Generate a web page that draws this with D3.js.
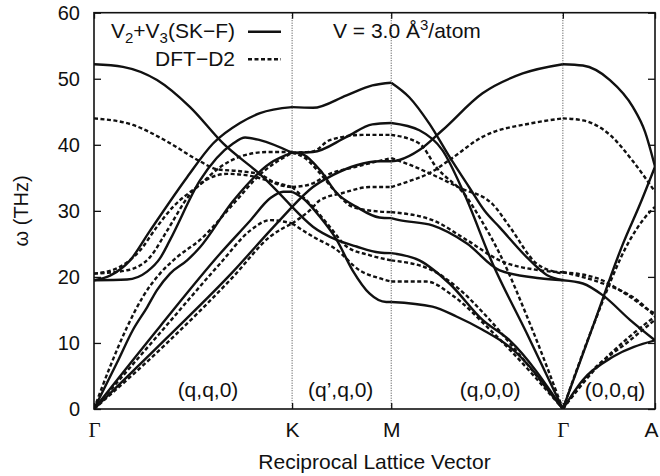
<!DOCTYPE html>
<html>
<head>
<meta charset="utf-8">
<script src="https://cdn.jsdelivr.net/npm/d3@7"></script>
<style>
  body { margin: 0; background: #fff; }
  svg { font-family: "Liberation Sans", Arial, sans-serif; }
</style>
</head>
<body>
<div id="chart"></div>
<script>
//~~~~~~~~~~~~~~~~~~~~~~~~~~~~~~~~~~~~
// Data
//~~~~~~~~~~~~~~~~~~~~~~~~~~~~~~~~~~~~
// high-symmetry points and their position along the path
const symLabels = ["\u0393", "K", "M", "\u0393", "A"];
const symPos = [0, 1.333, 2.0, 3.155, 3.775];

// direction labels and where they sit along the path
const dirLabels = ["(q,q,0)", "(q\u2019,q,0)", "(q,0,0)", "(0,0,q)"];
const dirLabelPos = [0.767, 1.66, 2.665, 3.506];

const yTicks = [0, 10, 20, 30, 40, 50, 60];

// bands: [segment index, [[fraction along segment, frequency THz], ...]]
const skfBands = [
    // Gamma - K
    [0, [[0, 52.2], [0.146, 51.8], [0.318, 49.8], [0.485, 45.7], [0.652, 40.2], [0.854, 35.1], [1, 30.6]]],
    [0, [[0, 19.5], [0.081, 20.2], [0.182, 22.5], [0.283, 27], [0.47, 35.1], [0.601, 40.2], [0.737, 43.3], [0.838, 44.8], [1, 45.7]]],
    [0, [[0, 19.5], [0.167, 19.6], [0.268, 20.8], [0.333, 22.8], [0.384, 25.6], [0.535, 34.6], [0.702, 40.2], [0.763, 41.1], [0.838, 40.7], [1, 38.8]]],
    [0, [[0, 0], [0.116, 7], [0.197, 12], [0.268, 15.4], [0.318, 18], [0.384, 20.5], [0.47, 22.5], [0.535, 24.5], [0.702, 31.5], [0.889, 37.2], [1, 38.8]]],
    [0, [[0, 0], [0.333, 12.5], [0.636, 23.5], [0.788, 28.5], [0.889, 31.9], [0.955, 32.9], [1, 32.9]]],
    [0, [[0, 0], [0.369, 10.8], [0.702, 20.8], [0.889, 27], [1, 30.6]]],
    // K - M
    [1, [[0, 45.7], [0.21, 45.6], [0.55, 47.5], [0.81, 49], [1, 49.4]]],
    [1, [[0, 38.8], [0.21, 38.9], [0.55, 41.2], [0.81, 43.1], [1, 43.3]]],
    [1, [[0, 38.8], [0.08, 38.7], [0.28, 36.2], [0.45, 32.7], [0.65, 30.6], [0.88, 29], [1, 28.9]]],
    [1, [[0, 32.9], [0.11, 31.9], [0.28, 29.1], [0.45, 25.6], [0.61, 21], [0.78, 17.5], [0.95, 16.2], [1, 16.2]]],
    [1, [[0, 30.6], [0.21, 33.6], [0.41, 35.4], [0.65, 36.9], [0.88, 37.5], [1, 37.5]]],
    [1, [[0, 30.6], [0.21, 27.6], [0.45, 25.6], [0.65, 24.6], [0.88, 23.7], [1, 23.6]]],
    // M - Gamma
    [2, [[0, 49.4], [0.105, 47.2], [0.222, 43.2], [0.339, 38.2], [0.456, 33.5], [0.544, 30], [0.632, 27.5], [0.789, 23], [0.906, 20.3], [1, 19.5]]],
    [2, [[0, 43.3], [0.164, 42.2], [0.298, 39.2], [0.427, 32.5], [0.591, 22], [0.789, 11.5], [1, 0]]],
    [2, [[0, 37.5], [0.047, 37.7], [0.164, 39.2], [0.298, 42.2], [0.532, 47.8], [0.766, 50.8], [1, 52.2]]],
    [2, [[0, 28.9], [0.047, 28.6], [0.24, 27.8], [0.439, 25.1], [0.632, 21], [0.865, 19.8], [1, 19.5]]],
    [2, [[0, 23.6], [0.164, 22.5], [0.339, 19], [0.532, 13.5], [0.69, 10.4], [1, 0]]],
    [2, [[0, 16.2], [0.24, 15.5], [0.38, 14], [0.532, 12], [0.69, 9.4], [1, 0]]],
    // Gamma - A
    [3, [[0, 52.2], [0.217, 52], [0.511, 49.8], [0.761, 45.7], [0.891, 42], [1, 36.7]]],
    [3, [[0, 0], [0.326, 12.5], [0.652, 25], [0.837, 31], [1, 36.7]]],
    [3, [[0, 19.5], [0.217, 19], [0.435, 17.2], [0.728, 13.5], [1, 10.4]]],
    [3, [[0, 0], [0.217, 4.4], [0.543, 7.9], [1, 10.4]]]
];

const dftBands = [
    // Gamma - K
    [0, [[0, 44], [0.197, 43], [0.369, 40.5], [0.535, 37.5], [0.621, 36.3], [0.737, 36], [0.838, 35.5], [0.929, 34], [1, 33.6]]],
    [0, [[0, 20.5], [0.116, 21.3], [0.232, 24], [0.318, 27.6], [0.399, 30.6], [0.535, 34], [0.636, 36.6], [0.737, 38.2], [0.874, 38.9], [1, 38.9]]],
    [0, [[0, 20.5], [0.167, 21], [0.283, 23], [0.369, 27], [0.485, 32.5], [0.586, 35], [0.672, 35.6], [0.788, 35.3], [0.889, 34.5], [1, 33.6]]],
    [0, [[0, 0], [0.081, 6.4], [0.167, 12.4], [0.247, 17], [0.333, 20.5], [0.419, 23], [0.535, 25.6], [0.702, 31], [0.838, 35.5], [1, 38.8]]],
    [0, [[0, 0], [0.333, 11.5], [0.636, 22], [0.788, 27], [0.889, 28.6], [1, 28.1]]],
    [0, [[0, 0], [0.369, 10], [0.702, 20], [0.889, 26.1], [1, 28.1]]],
    // K - M
    [1, [[0, 38.8], [0.21, 39], [0.38, 40.7], [0.71, 41.5], [1, 41.5]]],
    [1, [[0, 38.8], [0.13, 38], [0.28, 35.7], [0.45, 32.7], [0.61, 30.6], [0.88, 29.9], [1, 29.8]]],
    [1, [[0, 33.6], [0.18, 34], [0.38, 35.6], [0.65, 36.7], [1, 38.0]]],
    [1, [[0, 33.6], [0.21, 30.6], [0.38, 27.6], [0.55, 24.6], [0.78, 23.3], [1, 22.5]]],
    [1, [[0, 28.1], [0.18, 30.1], [0.28, 31.6], [0.51, 32.7], [0.78, 33.6], [1, 33.6]]],
    [1, [[0, 28.1], [0.21, 26.1], [0.45, 24.1], [0.68, 21], [0.88, 19.8], [1, 19.3]]],
    // M - Gamma
    [2, [[0, 41.5], [0.164, 40.2], [0.263, 36.6], [0.439, 32.1], [0.515, 29], [0.632, 23.5], [0.807, 13], [1, 0]]],
    [2, [[0, 38.0], [0.105, 37], [0.222, 35.7], [0.398, 33.5], [0.591, 31], [0.69, 27.6], [0.848, 22], [1, 20.5]]],
    [2, [[0, 33.6], [0.105, 34.5], [0.222, 35.7], [0.339, 37.7], [0.532, 41.2], [0.825, 43.3], [1, 44]]],
    [2, [[0, 29.8], [0.24, 28.6], [0.439, 25.6], [0.632, 22.5], [0.865, 21], [1, 20.7]]],
    [2, [[0, 22.5], [0.24, 21], [0.38, 18.5], [0.556, 14], [0.69, 10], [1, 0]]],
    [2, [[0, 19.3], [0.205, 19.3], [0.357, 17.2], [0.556, 12.5], [0.69, 9], [1, 0]]],
    // Gamma - A
    [3, [[0, 44], [0.217, 43.7], [0.511, 41.5], [0.761, 37.5], [1, 32.9]]],
    [3, [[0, 0], [0.326, 12.5], [0.728, 25.6], [0.891, 29], [1, 30.6]]],
    [3, [[0, 20.7], [0.37, 19.8], [0.728, 17], [0.967, 14.7], [1, 14.5]]],
    [3, [[0, 20.7], [0.435, 19], [0.804, 16.5], [1, 14]]],
    [3, [[0, 0], [0.293, 5.4], [0.728, 10.4], [1, 13.5]]],
    [3, [[0, 0], [0.348, 6], [0.728, 11], [1, 14]]]
];

//~~~~~~~~~~~~~~~~~~~~~~~~~~~~~~~~~~~~
// Chart
//~~~~~~~~~~~~~~~~~~~~~~~~~~~~~~~~~~~~
const width = 660;
const height = 476;
const plotL = 94, plotR = 655, plotT = 12.7, plotB = 409;

const svg = d3.select("#chart")
    .append("svg")
    .attr("width", width)
    .attr("height", height);

const x = d3.scaleLinear().domain([symPos[0], symPos[symPos.length - 1]]).range([plotL, plotR]);
const y = d3.scaleLinear().domain([0, 60]).range([plotB, plotT]);

svg.append("defs").append("clipPath")
    .attr("id", "plot-clip")
    .append("rect")
    .attr("x", plotL).attr("y", plotT)
    .attr("width", plotR - plotL).attr("height", plotB - plotT);

// vertical dotted lines at the inner symmetry points
svg.append("g")
    .selectAll("line")
    .data(symPos.slice(1, -1))
    .join("line")
    .attr("x1", d => x(d)).attr("x2", d => x(d))
    .attr("y1", plotT).attr("y2", plotB)
    .attr("stroke", "#444")
    .attr("stroke-width", 1)
    .attr("stroke-dasharray", "1,1.5");

function toPath(band) {
    const seg = band[0];
    const k0 = symPos[seg], k1 = symPos[seg + 1];
    return band[1].map(([t, w]) => [k0 + t * (k1 - k0), w]);
}

const line = d3.line()
    .x(d => x(d[0]))
    .y(d => y(d[1]))
    .curve(d3.curveMonotoneX);

const curves = svg.append("g").attr("clip-path", "url(#plot-clip)");

curves.selectAll(".skf")
    .data(skfBands)
    .join("path")
    .attr("class", "skf")
    .attr("fill", "none")
    .attr("stroke", "#111")
    .attr("stroke-width", 2.4)
    .attr("d", d => line(toPath(d)));

curves.selectAll(".dft")
    .data(dftBands)
    .join("path")
    .attr("class", "dft")
    .attr("fill", "none")
    .attr("stroke", "#111")
    .attr("stroke-width", 2.4)
    .attr("stroke-dasharray", "4,2.5")
    .attr("d", d => line(toPath(d)));

// axes with inward ticks
const yLeft = svg.append("g")
    .attr("transform", `translate(${plotL},0)`)
    .call(d3.axisLeft(y).tickValues(yTicks).tickSizeInner(-7).tickSizeOuter(0).tickPadding(14));
yLeft.select(".domain").remove();
yLeft.selectAll("text").attr("font-size", 20).attr("font-family", "Liberation Sans, Arial, sans-serif").attr("fill", "#111");
yLeft.selectAll("line").attr("stroke", "#111").attr("stroke-width", 1.3);

const yRight = svg.append("g")
    .attr("transform", `translate(${plotR},0)`)
    .call(d3.axisRight(y).tickValues(yTicks).tickSizeInner(-7).tickSizeOuter(0).tickFormat(""));
yRight.select(".domain").remove();
yRight.selectAll("line").attr("stroke", "#111").attr("stroke-width", 1.3);

const xBottom = svg.append("g")
    .attr("transform", `translate(0,${plotB})`)
    .call(d3.axisBottom(x).tickValues(symPos).tickSizeInner(-6).tickSizeOuter(0).tickPadding(13)
        .tickFormat((d, i) => symLabels[i]));
xBottom.select(".domain").remove();
xBottom.selectAll("text")
    .attr("font-size", 21)
    .attr("font-family", (d, i) => symLabels[i] === "\u0393" ? "Liberation Serif, serif" : "Liberation Sans, Arial, sans-serif")
    .attr("dx", (d, i) => i === symLabels.length - 1 ? -4 : 0)
    .attr("fill", "#111");
xBottom.selectAll("line").attr("stroke", "#111").attr("stroke-width", 1.3);

const xTop = svg.append("g")
    .attr("transform", `translate(0,${plotT})`)
    .call(d3.axisTop(x).tickValues(symPos).tickSizeInner(-6).tickSizeOuter(0).tickFormat(""));
xTop.select(".domain").remove();
xTop.selectAll("line").attr("stroke", "#111").attr("stroke-width", 1.3);

// frame
svg.append("rect")
    .attr("x", plotL).attr("y", plotT)
    .attr("width", plotR - plotL).attr("height", plotB - plotT)
    .attr("fill", "none")
    .attr("stroke", "#111")
    .attr("stroke-width", 1.6);

// direction labels
svg.append("g")
    .selectAll("text")
    .data(dirLabels)
    .join("text")
    .attr("x", (d, i) => x(dirLabelPos[i]))
    .attr("y", 397)
    .attr("text-anchor", "middle")
    .attr("font-size", 21)
    .attr("fill", "#111")
    .text(d => d);

// axis titles
svg.append("text")
    .attr("x", (plotL + plotR) / 2)
    .attr("y", 469)
    .attr("text-anchor", "middle")
    .attr("font-size", 21)
    .attr("fill", "#111")
    .text("Reciprocal Lattice Vector");

svg.append("text")
    .attr("transform", `translate(28,${(plotT + plotB) / 2}) rotate(-90)`)
    .attr("text-anchor", "middle")
    .attr("font-size", 20)
    .attr("fill", "#111")
    .text("\u03c9 (THz)");

// legend
const legend = svg.append("g").attr("font-size", 21).attr("fill", "#111");
const row1 = legend.append("text").attr("x", 235).attr("y", 38).attr("text-anchor", "end");
row1.append("tspan").text("V");
row1.append("tspan").attr("dy", 5).attr("font-size", 15).text("2");
row1.append("tspan").attr("dy", -5).text("+V");
row1.append("tspan").attr("dy", 5).attr("font-size", 15).text("3");
row1.append("tspan").attr("dy", -5).text("(SK\u2212F)");
legend.append("line")
    .attr("x1", 248).attr("x2", 281).attr("y1", 31.7).attr("y2", 31.7)
    .attr("stroke", "#111").attr("stroke-width", 2.4);

legend.append("text").attr("x", 235).attr("y", 66).attr("text-anchor", "end").text("DFT\u2212D2");
legend.append("line")
    .attr("x1", 248).attr("x2", 281).attr("y1", 59.3).attr("y2", 59.3)
    .attr("stroke", "#111").attr("stroke-width", 2.4)
    .attr("stroke-dasharray", "4,2.5");

// volume annotation
const vol = svg.append("text").attr("x", 333).attr("y", 38).attr("font-size", 21).attr("fill", "#111");
vol.append("tspan").text("V = 3.0 \u00c5");
vol.append("tspan").attr("dy", -8).attr("font-size", 15).text("3");
vol.append("tspan").attr("dy", 8).text("/atom");
</script>
</body>
</html>
